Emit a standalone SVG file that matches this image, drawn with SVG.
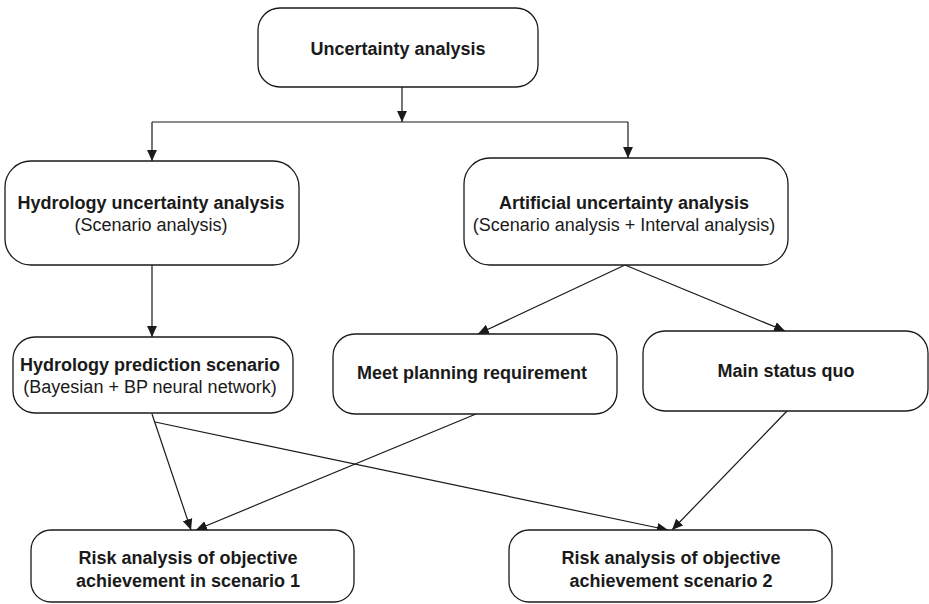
<svg xmlns="http://www.w3.org/2000/svg" width="929" height="604" viewBox="0 0 929 604">
<style>
.box{fill:#fff;stroke:#1a1a1a;stroke-width:1.3}
.b{font-family:"Liberation Sans",Arial,sans-serif;font-weight:bold;font-size:18px;fill:#1a1a1a;text-anchor:middle}
.r{font-family:"Liberation Sans",Arial,sans-serif;font-size:18px;fill:#1a1a1a;text-anchor:middle}
.c{fill:none;stroke:#1a1a1a;stroke-width:1.2}
</style>
<defs>
<marker id="ah" viewBox="0 0 10 10" refX="10" refY="5" markerWidth="11" markerHeight="11" markerUnits="userSpaceOnUse" orient="auto">
<path d="M0,0.5 L10,5 L0,9.5 z" fill="#1a1a1a"/>
</marker>
</defs>
<rect width="929" height="604" fill="#fff"/>
<g id="connectors">
<line class="c" x1="402" y1="87" x2="402" y2="122" marker-end="url(#ah)"/>
<line class="c" x1="152" y1="122" x2="628" y2="122"/>
<line class="c" x1="152" y1="122" x2="152" y2="161" marker-end="url(#ah)"/>
<line class="c" x1="628" y1="122" x2="628" y2="158" marker-end="url(#ah)"/>
<line class="c" x1="152" y1="265" x2="152" y2="337" marker-end="url(#ah)"/>
<line class="c" x1="625" y1="265" x2="478" y2="334" marker-end="url(#ah)"/>
<line class="c" x1="625" y1="265" x2="785" y2="331" marker-end="url(#ah)"/>
<line class="c" x1="152" y1="414" x2="191" y2="530" marker-end="url(#ah)"/>
<line class="c" x1="155" y1="422" x2="668" y2="530" marker-end="url(#ah)"/>
<line class="c" x1="476" y1="414" x2="196" y2="530" marker-end="url(#ah)"/>
<line class="c" x1="788" y1="410" x2="672" y2="530" marker-end="url(#ah)"/>
</g>
<g id="n-uncertainty">
<rect class="box" x="258" y="8" width="280" height="79" rx="22"/>
<text class="b" x="398" y="55">Uncertainty analysis</text>
</g>
<g id="n-hydrology">
<rect class="box" x="5" y="161" width="294" height="104" rx="26"/>
<text class="b" x="151" y="209">Hydrology uncertainty analysis</text>
<text class="r" x="151" y="231">(Scenario analysis)</text>
</g>
<g id="n-artificial">
<rect class="box" x="464" y="158" width="324" height="107" rx="26"/>
<text class="b" x="624" y="209">Artificial uncertainty analysis</text>
<text class="r" x="624" y="231">(Scenario analysis + Interval analysis)</text>
</g>
<g id="n-prediction">
<rect class="box" x="13" y="337" width="280" height="76" rx="22"/>
<text class="b" x="150" y="371">Hydrology prediction scenario</text>
<text class="r" x="150" y="393">(Bayesian + BP neural network)</text>
</g>
<g id="n-meet">
<rect class="box" x="333" y="334" width="284" height="80" rx="22"/>
<text class="b" x="472" y="379">Meet planning requirement</text>
</g>
<g id="n-status">
<rect class="box" x="643" y="331" width="285" height="80" rx="22"/>
<text class="b" x="786" y="377">Main status quo</text>
</g>
<g id="n-risk1">
<rect class="box" x="31" y="530" width="323" height="72" rx="20"/>
<text class="b" x="188" y="564">Risk analysis of objective</text>
<text class="b" x="188" y="587">achievement in scenario 1</text>
</g>
<g id="n-risk2">
<rect class="box" x="509" y="530" width="323" height="72" rx="20"/>
<text class="b" x="671" y="564">Risk analysis of objective</text>
<text class="b" x="671" y="587">achievement scenario 2</text>
</g>
</svg>
